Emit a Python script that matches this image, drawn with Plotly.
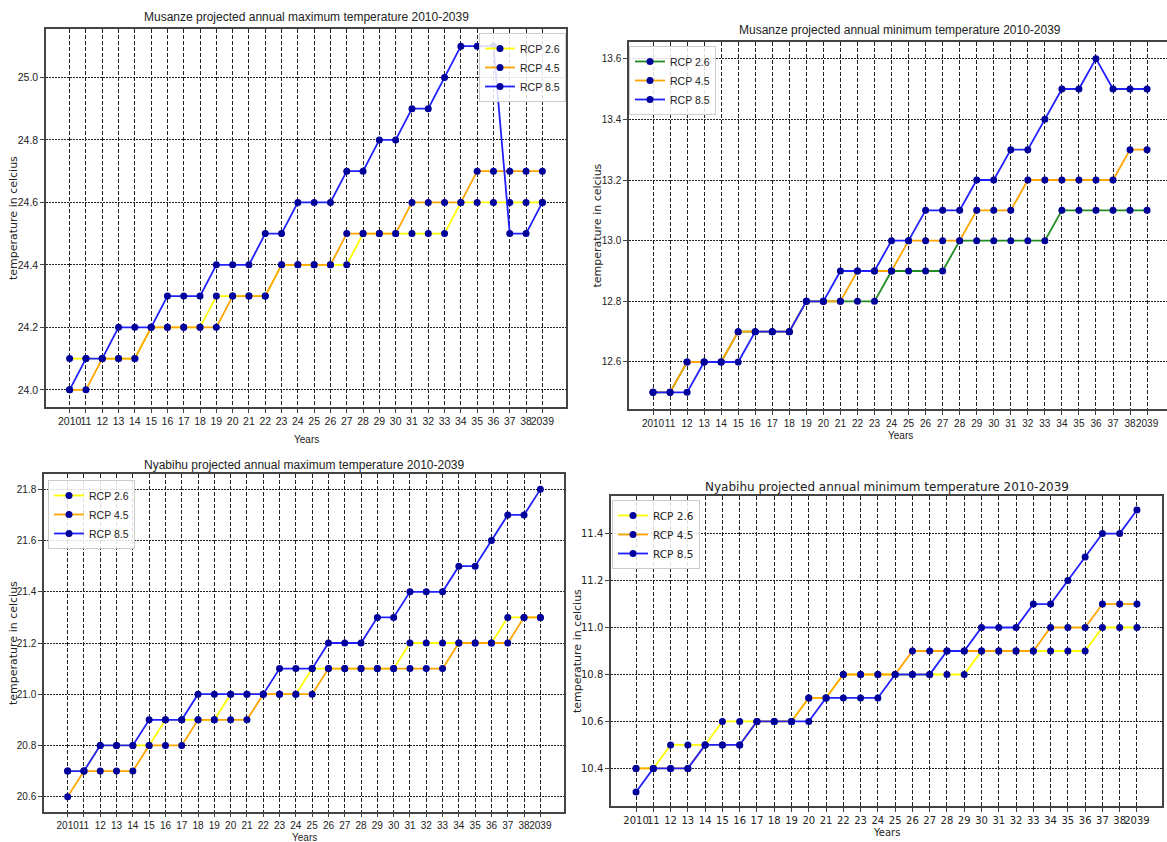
import plotly.graph_objects as go

W, H = 1167, 842

years = list(range(2010, 2040))
year_labels = ["2010"] + [str(y)[2:] for y in range(2011, 2039)] + ["2039"]

# Musanze annual maximum
mus_max_26 = [24.1, 24.1, 24.1, 24.1, 24.1, 24.2, 24.2, 24.2, 24.2, 24.3, 24.3, 24.3, 24.3, 24.4, 24.4,
              24.4, 24.4, 24.4, 24.5, 24.5, 24.5, 24.5, 24.5, 24.5, 24.6, 24.6, 24.6, 24.6, 24.6, 24.6]
mus_max_45 = [24.0, 24.0, 24.1, 24.1, 24.1, 24.2, 24.2, 24.2, 24.2, 24.2, 24.3, 24.3, 24.3, 24.4, 24.4,
              24.4, 24.4, 24.5, 24.5, 24.5, 24.5, 24.6, 24.6, 24.6, 24.6, 24.7, 24.7, 24.7, 24.7, 24.7]
mus_max_85 = [24.0, 24.1, 24.1, 24.2, 24.2, 24.2, 24.3, 24.3, 24.3, 24.4, 24.4, 24.4, 24.5, 24.5, 24.6,
              24.6, 24.6, 24.7, 24.7, 24.8, 24.8, 24.9, 24.9, 25.0, 25.1, 25.1, 25.1, 24.5, 24.5, 24.6]

# Musanze annual minimum
mus_min_26 = [12.5, 12.5, 12.6, 12.6, 12.6, 12.7, 12.7, 12.7, 12.7, 12.8, 12.8, 12.8, 12.8, 12.8, 12.9,
              12.9, 12.9, 12.9, 13.0, 13.0, 13.0, 13.0, 13.0, 13.0, 13.1, 13.1, 13.1, 13.1, 13.1, 13.1]
mus_min_45 = [12.5, 12.5, 12.6, 12.6, 12.6, 12.7, 12.7, 12.7, 12.7, 12.8, 12.8, 12.8, 12.9, 12.9, 12.9,
              13.0, 13.0, 13.0, 13.0, 13.1, 13.1, 13.1, 13.2, 13.2, 13.2, 13.2, 13.2, 13.2, 13.3, 13.3]
mus_min_85 = [12.5, 12.5, 12.5, 12.6, 12.6, 12.6, 12.7, 12.7, 12.7, 12.8, 12.8, 12.9, 12.9, 12.9, 13.0,
              13.0, 13.1, 13.1, 13.1, 13.2, 13.2, 13.3, 13.3, 13.4, 13.5, 13.5, 13.6, 13.5, 13.5, 13.5]

# Nyabihu annual maximum
nya_max_26 = [20.7, 20.7, 20.8, 20.8, 20.8, 20.8, 20.9, 20.9, 20.9, 20.9, 21.0, 21.0, 21.0, 21.0, 21.0,
              21.1, 21.1, 21.1, 21.1, 21.1, 21.1, 21.2, 21.2, 21.2, 21.2, 21.2, 21.2, 21.3, 21.3, 21.3]
nya_max_45 = [20.6, 20.7, 20.7, 20.7, 20.7, 20.8, 20.8, 20.8, 20.9, 20.9, 20.9, 20.9, 21.0, 21.0, 21.0,
              21.0, 21.1, 21.1, 21.1, 21.1, 21.1, 21.1, 21.1, 21.1, 21.2, 21.2, 21.2, 21.2, 21.3, 21.3]
nya_max_85 = [20.7, 20.7, 20.8, 20.8, 20.8, 20.9, 20.9, 20.9, 21.0, 21.0, 21.0, 21.0, 21.0, 21.1, 21.1,
              21.1, 21.2, 21.2, 21.2, 21.3, 21.3, 21.4, 21.4, 21.4, 21.5, 21.5, 21.6, 21.7, 21.7, 21.8]

# Nyabihu annual minimum
nya_min_26 = [10.4, 10.4, 10.5, 10.5, 10.5, 10.6, 10.6, 10.6, 10.6, 10.6, 10.7, 10.7, 10.8, 10.8, 10.8,
              10.8, 10.8, 10.8, 10.8, 10.8, 10.9, 10.9, 10.9, 10.9, 10.9, 10.9, 10.9, 11.0, 11.0, 11.0]
nya_min_45 = [10.4, 10.4, 10.4, 10.4, 10.5, 10.5, 10.5, 10.6, 10.6, 10.6, 10.7, 10.7, 10.8, 10.8, 10.8,
              10.8, 10.9, 10.9, 10.9, 10.9, 10.9, 10.9, 10.9, 10.9, 11.0, 11.0, 11.0, 11.1, 11.1, 11.1]
nya_min_85 = [10.3, 10.4, 10.4, 10.4, 10.5, 10.5, 10.5, 10.6, 10.6, 10.6, 10.6, 10.7, 10.7, 10.7, 10.7,
              10.8, 10.8, 10.8, 10.9, 10.9, 11.0, 11.0, 11.0, 11.1, 11.1, 11.2, 11.3, 11.4, 11.4, 11.5]

series_names = ["RCP 2.6", "RCP 4.5", "RCP 8.5"]

titles = ["Musanze projected annual maximum temperature 2010-2039",
          "Musanze projected annual minimum temperature 2010-2039",
          "Nyabihu projected annual maximum temperature 2010-2039",
          "Nyabihu projected annual minimum temperature 2010-2039"]

COND = "Liberation Sans, Arial, sans-serif"
NORM = "DejaVu Sans, sans-serif"

# panel layout in pixels: (left, right, top, bottom), x range, y range, y ticks
panels = [
    dict(box=(46, 566, 29, 407), xr=[2008.55, 2040.45], yr=[23.945, 25.155],
         yt=[24.0, 24.2, 24.4, 24.6, 24.8, 25.0],
         data=[mus_max_26, mus_max_45, mus_max_85], colors=["#ffff00", "#ffa500", "#2020ff"],
         title_y=17, xlab_y=440, ylab_x=14, font=COND, fs=10.5, ymirror=True, tl=4,
         leg=dict(x=566, y=33, xanchor="right")),
    dict(box=(629, 1167, 42, 409), xr=[2008.59, 2040.17], yr=[12.445, 13.655],
         yt=[12.6, 12.8, 13.0, 13.2, 13.4, 13.6],
         data=[mus_min_26, mus_min_45, mus_min_85], colors=["#228b22", "#ffa500", "#2020ff"],
         title_y=30, xlab_y=436, ylab_x=597, font=COND, fs=10, ymirror=False, tl=4,
         leg=dict(x=629, y=46, xanchor="left")),
    dict(box=(44, 564, 474, 812), xr=[2008.55, 2040.45], yr=[20.54, 21.86],
         yt=[20.6, 20.8, 21.0, 21.2, 21.4, 21.6, 21.8],
         data=[nya_max_26, nya_max_45, nya_max_85], colors=["#ffff00", "#ffa500", "#2020ff"],
         title_y=465, xlab_y=837, ylab_x=13, font=COND, fs=10, ymirror=True, tl=3,
         leg=dict(x=48, y=480, xanchor="left")),
    dict(box=(611, 1162, 496, 806), xr=[2008.55, 2040.45], yr=[10.24, 11.56],
         yt=[10.4, 10.6, 10.8, 11.0, 11.2, 11.4],
         data=[nya_min_26, nya_min_45, nya_min_85], colors=["#ffff00", "#ffa500", "#2020ff"],
         title_y=487, xlab_y=832, ylab_x=577, font=NORM, fs=10, ymirror=True, tl=4,
         leg=dict(x=612, y=500, xanchor="left")),
]

fig = go.Figure()
layout = dict(width=W, height=H, margin=dict(l=0, r=0, t=0, b=0),
              paper_bgcolor="white", plot_bgcolor="white", showlegend=True)
annotations = []

for i, p in enumerate(panels):
    n = "" if i == 0 else str(i + 1)
    L, R, T, B = p["box"]
    xa = "x" + n
    ya = "y" + n
    legname = "legend" + n
    for name, vals, col in zip(series_names, p["data"], p["colors"]):
        fig.add_trace(go.Scatter(
            x=years, y=vals, name=name, mode="lines+markers",
            line=dict(color=col, width=1.8),
            marker=dict(color="#00009a", size=7),
            xaxis=xa, yaxis=ya, legend=legname))
    tf = dict(family=p["font"], size=p["fs"], color="#222")
    layout["xaxis" + n] = dict(
        domain=[L / W, R / W], range=p["xr"], anchor=ya,
        tickvals=years, ticktext=year_labels, tickangle=0,
        showgrid=True, gridcolor="#222", gridwidth=1, griddash="4px,2px",
        showline=True, linecolor="#444", linewidth=1.5, mirror=True,
        ticks="outside", ticklen=p["tl"], tickcolor="#444", zeroline=False,
        tickfont=tf)
    layout["yaxis" + n] = dict(
        domain=[1 - B / H, 1 - T / H], range=p["yr"], anchor=xa,
        tickvals=p["yt"], ticktext=[f"{v:.1f}" for v in p["yt"]],
        showgrid=True, gridcolor="#222", gridwidth=1, griddash="2px,1px",
        showline=True, linecolor="#444", linewidth=1.5, mirror=p["ymirror"],
        ticks="outside", ticklen=4, tickcolor="#444", zeroline=False,
        tickfont=tf)
    lg = p["leg"]
    layout[legname] = dict(
        x=lg["x"] / W, y=1 - lg["y"] / H, xanchor=lg["xanchor"], yanchor="top",
        bgcolor="rgba(255,255,255,0.85)", bordercolor="#ccc", borderwidth=1,
        font=dict(family=p["font"], size=10.5, color="#222"),
        itemwidth=30, tracegroupgap=0)
    cx = (L + R) / 2 / W
    if i == 1:
        cx = 900 / W
    annotations.append(dict(text=titles[i], x=cx, y=1 - p["title_y"] / H, xref="paper", yref="paper",
                            showarrow=False, xanchor="center", yanchor="middle",
                            font=dict(family=p["font"], size=12, color="#222")))
    annotations.append(dict(text="Years", x=cx, y=1 - p["xlab_y"] / H, xref="paper", yref="paper",
                            showarrow=False, xanchor="center", yanchor="middle",
                            font=dict(family=p["font"], size=10, color="#222")))
    annotations.append(dict(text="temperature in celcius", x=p["ylab_x"] / W, y=1 - (T + B) / 2 / H,
                            xref="paper", yref="paper", showarrow=False, textangle=-90,
                            xanchor="center", yanchor="middle",
                            font=dict(family=NORM, size=11, color="#222")))

layout["annotations"] = annotations
fig.update_layout(**layout)
fig.write_html("out.html", config={"displayModeBar": False},
               post_script="document.body.style.margin='0';document.body.style.overflow='hidden';")
